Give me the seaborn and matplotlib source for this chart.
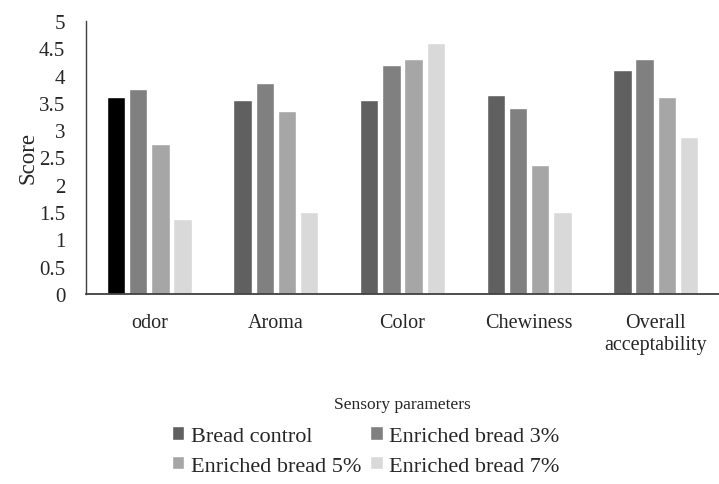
import pandas as pd
import numpy as np
import matplotlib.pyplot as plt
import seaborn as sns

categories = ['odor', 'Aroma', 'Color', 'Chewiness', 'Overall\nacceptability']
groups = ['Bread control', 'Enriched bread 3%', 'Enriched bread 5%', 'Enriched bread 7%']
control = [3.60, 3.55, 3.55, 3.65, 4.11]
enriched_3 = [3.75, 3.86, 4.19, 3.41, 4.31]
enriched_5 = [2.74, 3.36, 4.31, 2.36, 3.61]
enriched_7 = [1.37, 1.50, 4.60, 1.50, 2.88]
colors = ['#606060', '#808080', '#a6a6a6', '#d9d9d9']

df = pd.DataFrame({
    'param': categories * 4,
    'group': np.repeat(groups, len(categories)),
    'score': control + enriched_3 + enriched_5 + enriched_7,
})

sns.set_style('white')
plt.rcParams['font.family'] = ['Liberation Serif', 'DejaVu Serif']

fig = plt.figure(figsize=(7.19, 4.85), dpi=100)
ax = fig.add_axes([0.1196, 0.392, 0.8804, 0.5626])

sns.barplot(data=df, x='param', y='score', hue='group', palette=colors,
            width=0.70, gap=0.17, ax=ax, legend=True)

# first bar of odor is drawn in black in the original
ax.containers[0].patches[0].set_facecolor('black')

ax.set_ylim(0, 5)
ax.set_yticks(np.arange(0, 5.01, 0.5))
ax.set_yticklabels(['0', '0.5', '1', '1.5', '2', '2.5', '3', '3.5', '4', '4.5', '5'])
ax.set_xlim(-0.5, 4.5)
ax.tick_params(axis='y', length=0, pad=15, labelsize=15)
ax.tick_params(axis='x', length=0, pad=14, labelsize=14.5)
ax.set_ylabel('Score', fontsize=16.5, labelpad=0)
ax.set_xlabel('Sensory parameters', fontsize=12.5, labelpad=30)

for s in ['top', 'right']:
    ax.spines[s].set_visible(False)
ax.spines['left'].set_color('#404040')
ax.spines['bottom'].set_color('#404040')
ax.spines['left'].set_linewidth(1.0)
ax.spines['bottom'].set_linewidth(1.3)

handles, labels = ax.get_legend_handles_labels()
ax.legend_.remove()
order = [0, 2, 1, 3]
fig.legend([handles[i] for i in order], [labels[i] for i in order],
           loc='center', bbox_to_anchor=(0.509, 0.068), ncol=2,
           frameon=False, fontsize=16, handlelength=0.55, handleheight=0.55,
           handletextpad=0.3, columnspacing=0.4, labelspacing=0.45)

plt.savefig('out.png', dpi=100)
